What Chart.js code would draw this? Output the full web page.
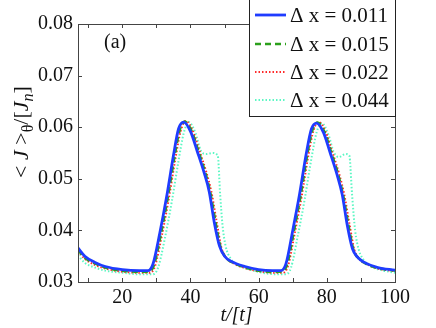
<!DOCTYPE html>
<html>
<head>
<meta charset="utf-8">
<script src="https://cdn.jsdelivr.net/npm/chart.js@4.4.1/dist/chart.umd.min.js"></script>
<style>
  html, body { margin: 0; padding: 0; background: #fff; }
  canvas { display: block; }
</style>
</head>
<body>
<canvas id="myChart" width="436" height="328"></canvas>
<script>
const ctx = document.getElementById('myChart');

// series labels
const labels = ['\u0394 x = 0.011', '\u0394 x = 0.015', '\u0394 x = 0.022', '\u0394 x = 0.044'];

// dx = 0.011 (blue, solid)
const tBlue = [7, 9, 12, 15, 20, 25, 27.5, 29, 31, 33, 35, 36.5, 38, 40, 42, 44, 45.5, 47, 48.5, 50, 52, 56, 60, 64, 66.5, 68, 70, 72, 74, 75.5, 77, 79, 81, 83, 84.5, 86, 87.5, 89, 91, 95, 100];
const vBlue = [0.0366, 0.0350, 0.0338, 0.0330, 0.0324, 0.0322, 0.0322, 0.0335, 0.0395, 0.0465, 0.0545, 0.0597, 0.0610, 0.0592, 0.0553, 0.0512, 0.0475, 0.0415, 0.0370, 0.0350, 0.0340, 0.0330, 0.0324, 0.0322, 0.0322, 0.0335, 0.0400, 0.0470, 0.0550, 0.0597, 0.0608, 0.0590, 0.0550, 0.0508, 0.0470, 0.0410, 0.0365, 0.0348, 0.0338, 0.0328, 0.0323];

// dx = 0.015 (green, dashed)
const tGreen = [7, 9, 12, 15, 20, 25, 27.8, 29.3, 31.3, 33.3, 35.3, 36.8, 38.3, 40.3, 42.3, 44.3, 45.8, 47.3, 48.8, 50.3, 52.3, 56, 60, 64, 66.8, 68.3, 70.3, 72.3, 74.3, 75.8, 77.3, 79.3, 81.3, 83.3, 84.8, 86.3, 87.8, 89.3, 91.3, 95, 100];
const vGreen = [0.0362, 0.0347, 0.0336, 0.0328, 0.0322, 0.0320, 0.0320, 0.0333, 0.0392, 0.0462, 0.0542, 0.0593, 0.0611, 0.0593, 0.0554, 0.0513, 0.0474, 0.0418, 0.0368, 0.0348, 0.0338, 0.0328, 0.0322, 0.0320, 0.0320, 0.0333, 0.0397, 0.0467, 0.0548, 0.0595, 0.0609, 0.0591, 0.0551, 0.0509, 0.0468, 0.0412, 0.0363, 0.0346, 0.0336, 0.0327, 0.0322];

// dx = 0.022 (red, dotted)
const tRed = [7, 9, 12, 15, 20, 25, 28.1, 29.6, 31.6, 33.6, 35.6, 37.1, 38.6, 40.6, 42.6, 44.6, 46.1, 47.6, 49.1, 50.6, 52.6, 56, 60, 64, 67.1, 68.6, 70.6, 72.6, 74.6, 76.1, 77.6, 79.6, 81.6, 83.6, 85.1, 86.6, 88.1, 89.6, 91.6, 95, 100];
const vRed = [0.0360, 0.0345, 0.0333, 0.0326, 0.0320, 0.0318, 0.0318, 0.0331, 0.0390, 0.0460, 0.0540, 0.0592, 0.0612, 0.0594, 0.0555, 0.0514, 0.0476, 0.0420, 0.0366, 0.0346, 0.0336, 0.0327, 0.0321, 0.0318, 0.0318, 0.0331, 0.0395, 0.0465, 0.0546, 0.0594, 0.0610, 0.0592, 0.0552, 0.0510, 0.0470, 0.0414, 0.0362, 0.0344, 0.0335, 0.0326, 0.0321];

// dx = 0.044 (cyan, dotted, with shoulder)
const tCyan = [7, 9, 12, 15, 20, 25, 29, 30.5, 32.5, 34.5, 36.5, 38, 39.5, 41.5, 43, 44.5, 46.5, 48, 48.7, 49.4, 50.3, 51.8, 54, 57, 61, 65, 68, 69.5, 71.5, 73.5, 75.5, 77, 78.5, 80.5, 82, 83.5, 85.5, 86.6, 87.4, 88.3, 89.4, 90.9, 93, 96, 100];
const vCyan = [0.0352, 0.0337, 0.0328, 0.0322, 0.0318, 0.0315, 0.0315, 0.0328, 0.0385, 0.0455, 0.0535, 0.0588, 0.0610, 0.0588, 0.0555, 0.0548, 0.0550, 0.0545, 0.0470, 0.0410, 0.0370, 0.0345, 0.0333, 0.0325, 0.0318, 0.0315, 0.0315, 0.0328, 0.0390, 0.0460, 0.0540, 0.0590, 0.0608, 0.0585, 0.0552, 0.0542, 0.0548, 0.0545, 0.0470, 0.0400, 0.0362, 0.0342, 0.0330, 0.0323, 0.0318];

const xTicks = [10, 20, 30, 40, 50, 60, 70, 80, 90, 100];
const yTicks = [0.03, 0.04, 0.05, 0.06, 0.07, 0.08];

const serif = "'Liberation Serif', 'DejaVu Serif', serif";

const pts = (ts, vs) => ts.map((t, i) => ({ x: t, y: vs[i] }));

const datasets = [
	{ label: labels[0], data: pts(tBlue, vBlue), borderColor: '#1f3cff', borderWidth: 2.8, borderDash: [] },
	{ label: labels[1], data: pts(tGreen, vGreen), borderColor: '#2ca01c', borderWidth: 2.5, borderDash: [6, 4] },
	{ label: labels[2], data: pts(tRed, vRed), borderColor: '#ff2a2a', borderWidth: 2, borderDash: [1.5, 2] },
	{ label: labels[3], data: pts(tCyan, vCyan), borderColor: '#5cf7c4', borderWidth: 2, borderDash: [1.5, 2] },
].map((d) => ({ ...d, pointRadius: 0, cubicInterpolationMode: 'monotone', fill: false }));

// draws box, inward ticks, y title, panel tag and legend
const decor = {
	id: 'decor',
	afterDraw(chart) {
		const c = chart.ctx;
		const a = chart.chartArea;
		const xs = chart.scales.x;
		const ys = chart.scales.y;
		c.save();
		c.strokeStyle = '#444';
		c.lineWidth = 1;
		c.strokeRect(a.left + 0.5, a.top + 0.5, a.right - a.left, a.bottom - a.top);
		c.beginPath();
		for (const v of xTicks) {
			const px = Math.round(xs.getPixelForValue(v)) + 0.5;
			c.moveTo(px, a.bottom); c.lineTo(px, a.bottom - 4);
			c.moveTo(px, a.top); c.lineTo(px, a.top + 4);
		}
		for (const v of yTicks) {
			const py = Math.round(ys.getPixelForValue(v)) + 0.5;
			c.moveTo(a.left, py); c.lineTo(a.left + 4, py);
			c.moveTo(a.right, py); c.lineTo(a.right - 4, py);
		}
		c.stroke();

		// panel tag
		c.fillStyle = '#111';
		c.font = `20px ${serif}`;
		c.textBaseline = 'middle';
		c.textAlign = 'left';
		c.fillText('(a)', 104, 43);

		// y axis title with subscripts
		c.save();
		c.translate(28, 132);
		c.rotate(-Math.PI / 2);
		c.textBaseline = 'alphabetic';
		const big = `22px ${serif}`;
		const bigI = `italic 22px ${serif}`;
		const sub = `16px ${serif}`;
		const subI = `italic 16px ${serif}`;
		const parts = [
			['< ', big, 0], ['J', bigI, 0], [' >', big, 0], ['\u03b8', sub, 5],
			['/[', big, 0], ['J', bigI, 0], ['n', subI, 5], [']', big, 0],
		];
		let w = 0;
		for (const [t, f] of parts) { c.font = f; w += c.measureText(t).width; }
		let x = -w / 2;
		c.textAlign = 'left';
		for (const [t, f, dy] of parts) {
			c.font = f;
			c.fillText(t, x, dy);
			x += c.measureText(t).width;
		}
		c.restore();

		// legend
		const lx = 249, ly = -2, lw = 146, lh = 118;
		c.fillStyle = '#fff';
		c.fillRect(lx, ly, lw, lh);
		c.strokeStyle = '#222';
		c.strokeRect(lx + 0.5, ly + 0.5, lw, lh);
		const rows = [15, 44, 72, 100];
		chart.data.datasets.forEach((d, i) => {
			c.beginPath();
			c.strokeStyle = d.borderColor;
			c.lineWidth = d.borderWidth;
			c.setLineDash(d.borderDash);
			c.moveTo(255, rows[i]); c.lineTo(286, rows[i]);
			c.stroke();
			c.setLineDash([]);
			c.fillStyle = '#111';
			c.font = `21px ${serif}`;
			c.textBaseline = 'middle';
			c.fillText(d.label, 290, rows[i] + 1);
		});
		c.restore();
	},
};

new Chart(ctx, {
	type: 'line',
	data: { datasets: datasets },
	options: {
		responsive: false,
		animation: false,
		layout: { padding: { top: 24, right: 41, left: 0, bottom: 0 } },
		plugins: { legend: { display: false }, tooltip: { enabled: false } },
		scales: {
			x: {
				type: 'linear',
				min: 7,
				max: 100,
				afterBuildTicks: (s) => { s.ticks = xTicks.map((v) => ({ value: v })); },
				afterFit: (s) => { s.height = 46; },
				grid: { display: false, drawTicks: false },
				border: { display: false },
				ticks: {
					padding: 4,
					color: '#111',
					font: { family: serif, size: 20 },
					maxRotation: 0,
					callback: (v) => (v % 20 === 0 ? String(v) : ''),
				},
				title: {
					display: true,
					text: 't/[t]',
					color: '#111',
					padding: { top: -5, bottom: 0 },
					font: { family: serif, size: 20, style: 'italic' },
				},
			},
			y: {
				type: 'linear',
				min: 0.03,
				max: 0.08,
				afterBuildTicks: (s) => { s.ticks = yTicks.map((v) => ({ value: v })); },
				afterFit: (s) => { s.width = 78; },
				grid: { display: false, drawTicks: false },
				border: { display: false },
				ticks: {
					padding: 5,
					color: '#111',
					font: { family: serif, size: 20 },
					callback: (v) => v.toFixed(2),
				},
			},
		},
	},
	plugins: [decor],
});
</script>
</body>
</html>
